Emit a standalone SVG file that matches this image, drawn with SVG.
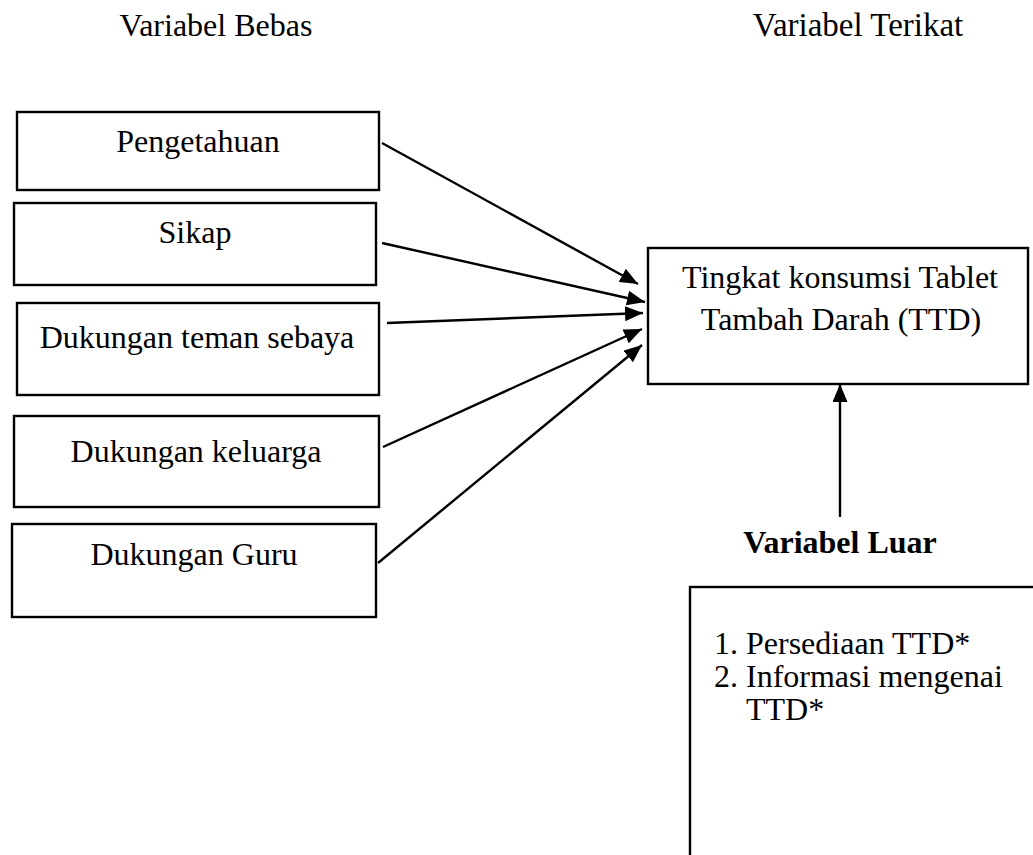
<svg xmlns="http://www.w3.org/2000/svg" width="1033" height="855" viewBox="0 0 1033 855">
<style>
.box{fill:#fff;stroke:#000;stroke-width:2.4}
.t{font-family:"Liberation Serif","Times New Roman",serif;font-size:32px;fill:#000}
.c{text-anchor:middle}
.b{font-weight:bold}
.ln{stroke:#000;stroke-width:2.4;fill:none;marker-end:url(#ah)}
</style>
<defs>
<marker id="ah" markerUnits="userSpaceOnUse" markerWidth="18" markerHeight="15" refX="18" refY="7.5" orient="auto">
<path d="M0,0 L18,7.5 L0,15 z" fill="#000"/>
</marker>
</defs>
<rect width="1033" height="855" fill="#fff"/>
<g id="titles">
<text class="t c" x="216" y="36">Variabel Bebas</text>
<text class="t c" x="858" y="36" style="font-size:33px">Variabel Terikat</text>
</g>
<g id="n1"><rect class="box" x="17" y="112" width="362" height="78"/><text class="t c" x="198" y="152">Pengetahuan</text></g>
<g id="n2"><rect class="box" x="14" y="203" width="362" height="82"/><text class="t c" x="195" y="243">Sikap</text></g>
<g id="n3"><rect class="box" x="17" y="303" width="362" height="92"/><text class="t c" x="197" y="348">Dukungan teman sebaya</text></g>
<g id="n4"><rect class="box" x="14" y="416" width="365" height="91"/><text class="t c" x="196" y="462">Dukungan keluarga</text></g>
<g id="n5"><rect class="box" x="12" y="524" width="364" height="93"/><text class="t c" x="194" y="565">Dukungan Guru</text></g>
<g id="target"><rect class="box" x="648" y="248" width="380" height="136"/>
<text class="t c" x="840" y="288">Tingkat konsumsi Tablet</text>
<text class="t c" x="841" y="330">Tambah Darah (TTD)</text></g>
<g id="luar-label"><text class="t c b" x="840" y="553">Variabel Luar</text></g>
<g id="luar"><rect class="box" x="690" y="587" width="360" height="300"/>
<text class="t"><tspan x="714" y="654">1.</tspan><tspan x="746" y="654">Persediaan TTD*</tspan><tspan x="714" y="687">2.</tspan><tspan x="746" y="687">Informasi mengenai</tspan><tspan x="746" y="720">TTD*</tspan></text></g>
<g id="connectors">
<line class="ln" x1="382" y1="143" x2="638" y2="284"/>
<line class="ln" x1="382" y1="243" x2="645" y2="302"/>
<line class="ln" x1="387" y1="323" x2="643" y2="313"/>
<line class="ln" x1="383" y1="447" x2="642" y2="329"/>
<line class="ln" x1="378" y1="563" x2="642" y2="345"/>
<line class="ln" x1="840" y1="517" x2="840" y2="384"/>
</g>
</svg>
